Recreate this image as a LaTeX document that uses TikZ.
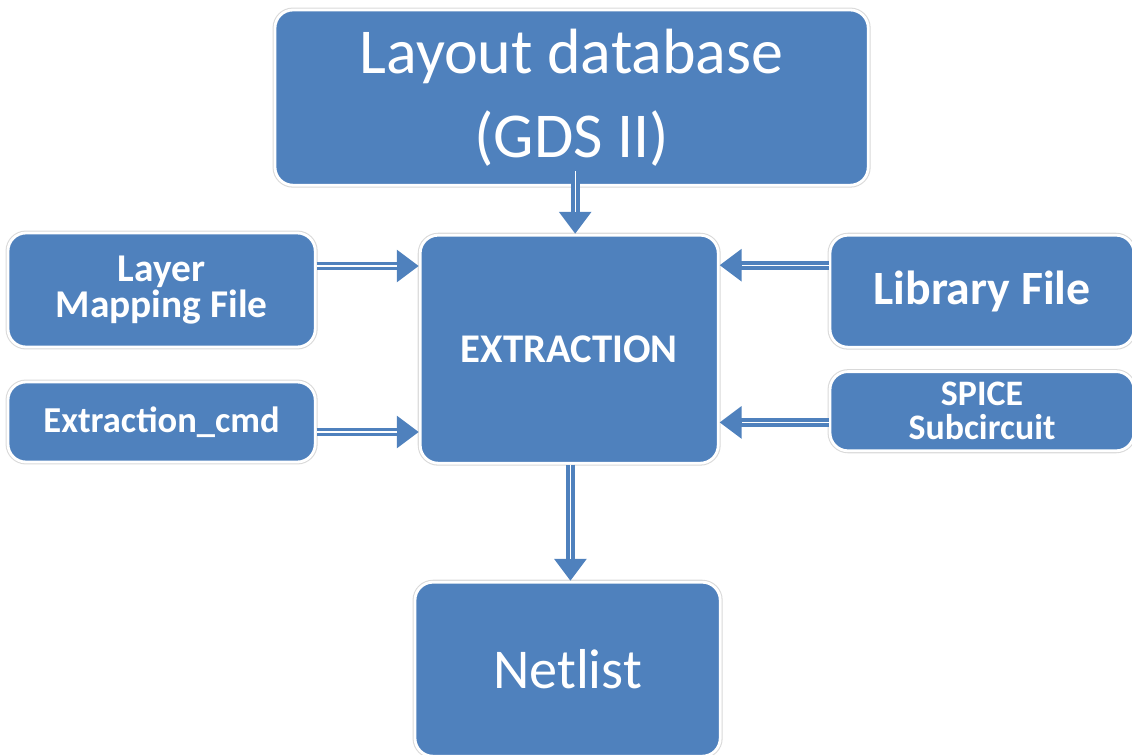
\documentclass[tikz,border=0pt]{standalone}
\usepackage{fontspec}
\setmainfont{Carlito}
\usetikzlibrary{arrows.meta,positioning}

\definecolor{boxblue}{HTML}{4F81BD}

\tikzset{
	block/.style={rectangle, rounded corners=0.45cm, fill=boxblue, text=white,
		draw=white, line width=2pt, preaction={draw=black!15, line width=3.5pt},
		align=center, inner sep=0pt},
	link/.style={draw=boxblue, line width=0.22cm, -{Triangle[length=0.55cm, width=0.78cm]},
		postaction={draw=white, line width=0.035cm, -, shorten >=0.55cm}}
}

\begin{document}
\begin{tikzpicture}
		\useasboundingbox (0,0) rectangle (28.3,-18.85);

		% Top and centre blocks
		\node[block, minimum width=14.83cm, minimum height=4.38cm,
			font=\fontsize{45.5}{60}\selectfont] (gds) at (14.29,-2.44) {Layout database\\(GDS II)};
		\node[block, minimum width=7.45cm, minimum height=5.7cm,
			font=\bfseries\fontsize{29}{32}\selectfont] (ext) at (14.23,-8.73) {EXTRACTION};

		% Inputs on the left
		\node[block, minimum width=7.68cm, minimum height=2.85cm,
			font=\bfseries\fontsize{28}{26}\selectfont] (lmf) at (4.04,-7.25) {Layer\\Mapping File};
		\node[block, minimum width=7.68cm, minimum height=2.0cm,
			font=\bfseries\fontsize{26}{26}\selectfont] (cmd) at (4.04,-10.55) {Extraction\_cmd};

		% Inputs on the right
		\node[block, minimum width=7.6cm, minimum height=2.8cm,
			font=\bfseries\fontsize{34}{36}\selectfont] (lib) at (24.55,-7.28) {Library File};
		\node[block, minimum width=7.6cm, minimum height=1.98cm,
			font=\bfseries\fontsize{25.5}{24}\selectfont] (spi) at (24.55,-10.28) {SPICE\\Subcircuit};

		% Output
		\node[block, minimum width=7.63cm, minimum height=4.35cm,
			font=\fontsize{40}{48}\selectfont] (net) at (14.19,-16.73) {Netlist};

		% Arrows
		\draw[link] ([xshift=0.09cm, yshift=0.38cm]gds.south) -- ([xshift=0.09cm]gds.south |- ext.north);
		\draw[link] ([yshift=0.6cm]lmf.east) -- ([yshift=0.6cm]lmf.east -| ext.west);
		\draw[link] ([yshift=-0.25cm]cmd.east) -- ([yshift=-0.25cm]cmd.east -| ext.west);
		\draw[link] ([yshift=0.65cm]lib.west) -- ([yshift=0.65cm]lib.west -| ext.east);
		\draw[link] ([yshift=-0.28cm]spi.west) -- ([yshift=-0.28cm]spi.west -| ext.east);
		\draw[link] ([xshift=0.03cm]ext.south) -- ([xshift=0.03cm]ext.south |- net.north);
	\end{tikzpicture}
\end{document}
